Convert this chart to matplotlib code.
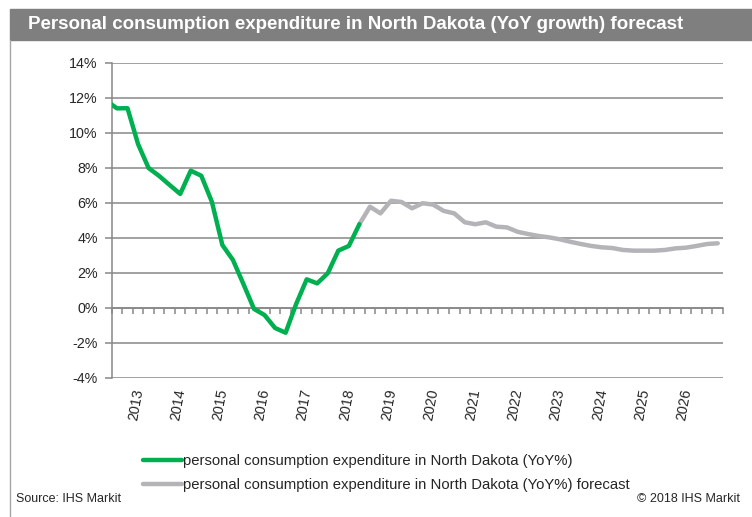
import matplotlib
matplotlib.use('Agg')
import matplotlib.pyplot as plt
import matplotlib.transforms as mtransforms
from matplotlib.patches import Rectangle
from matplotlib.lines import Line2D

plt.rcParams['font.family'] = ['Liberation Sans', 'DejaVu Sans']

# Quarterly YoY %, index 0 = 2013Q1. History begins at 2012Q4 (index -1), clipped by the axis.
hist_start = -1
hist_vals = [11.83, 11.39, 11.40, 9.35, 7.98, 7.53, 7.01, 6.50, 7.83, 7.54,
             6.06, 3.58, 2.73, 1.35, -0.07, -0.42, -1.16, -1.43, 0.21, 1.62,
             1.39, 1.97, 3.26, 3.53, 4.77]
# Forecast starts at the last historical quarter (2018Q4, index 23) and runs to 2027Q2
fc_start = 23
fc_vals = [4.77, 5.77, 5.39, 6.11, 6.04, 5.68, 5.97, 5.89, 5.53, 5.39,
           4.88, 4.77, 4.88, 4.63, 4.59, 4.34, 4.21,
           4.10, 4.02, 3.91, 3.77, 3.64, 3.53, 3.45, 3.41, 3.30, 3.26,
           3.26, 3.26, 3.30, 3.39, 3.43, 3.53, 3.64, 3.68]
n_quarters = fc_start + len(fc_vals)

years = list(range(2013, 2027))
yticks = list(range(-4, 15, 2))

hist_label = 'personal consumption expenditure in North Dakota (YoY%)'
fc_label = 'personal consumption expenditure in North Dakota (YoY%) forecast'
title = 'Personal consumption expenditure in North Dakota (YoY growth) forecast'

W, H = 752, 517
fig = plt.figure(figsize=(W / 100, H / 100), dpi=100)
ax = fig.add_axes([111.7 / W, 1 - 377.7 / H, (723 - 111.7) / W, (377.7 - 62.7) / H])

grid_col = '#878787'
text_col = '#262626'

hist_x = list(range(hist_start, hist_start + len(hist_vals)))
fc_x = list(range(fc_start, fc_start + len(fc_vals)))

fc_line, = ax.plot(fc_x, fc_vals, color='#b4b4b8', lw=3.2, solid_joinstyle='round',
                   solid_capstyle='round', zorder=3, label=fc_label)
hist_line, = ax.plot(hist_x, hist_vals, color='#00b050', lw=3.2, solid_joinstyle='round',
                     solid_capstyle='round', zorder=4, label=hist_label)

ax.set_xlim(-0.5, n_quarters - 0.5)
ax.set_ylim(-4, 14)
ax.set_yticks(yticks)
ax.set_yticklabels(['%d%%' % v for v in yticks], fontsize=10.3, color=text_col)
ax.yaxis.grid(True, color=grid_col, lw=1.1)
ax.set_axisbelow(True)

for s in ['top', 'right']:
    ax.spines[s].set_visible(False)
ax.spines['left'].set_color(grid_col)
ax.spines['left'].set_linewidth(1.1)
ax.spines['bottom'].set_position(('data', 0))
ax.spines['bottom'].set_color(grid_col)
ax.spines['bottom'].set_linewidth(1.1)

ax.tick_params(axis='y', direction='out', length=5, width=1.1, color=grid_col, pad=5)
ax.set_xticks([i + 0.5 for i in range(-1, n_quarters)])
ax.tick_params(axis='x', direction='out', length=4, width=1.1, color=grid_col,
               labelbottom=False)

# year labels centred on each year's four quarters
trans = mtransforms.blended_transform_factory(ax.transData, ax.transAxes)
for y in years:
    ax.text((y - 2013) * 4 + 1.8, -0.032, str(y), transform=trans, rotation=80,
            ha='center', va='top', fontsize=10.3, color=text_col)

# title bar and frame
fig.patches.append(Rectangle((10 / W, 1 - 40 / H), 1, 31 / H, transform=fig.transFigure,
                             color='#7f7f7f', zorder=0))
fig.text(28 / W, 1 - 24.5 / H, title, color='white', fontsize=13.5, fontweight='bold',
         va='center', ha='left')
fig.add_artist(Line2D([10 / W, 10 / W], [0, 1 - 40 / H], transform=fig.transFigure,
                      color='#a6a6a6', lw=1))

fig.legend(handles=[hist_line, fc_line], loc='upper left',
           bbox_to_anchor=(143 / W, 1 - 454 / H), frameon=False, fontsize=10.7,
           handlelength=2.65, handletextpad=0.05, labelspacing=0.68, borderpad=0,
           borderaxespad=0, labelcolor=text_col)

fig.text(16 / W, 1 - 499 / H, 'Source: IHS Markit', fontsize=9, color=text_col, va='center')
fig.text(740 / W, 1 - 499 / H, '\u00a9 2018 IHS Markit', fontsize=9, color=text_col,
         va='center', ha='right')

fig.savefig('out.png', dpi=100)
